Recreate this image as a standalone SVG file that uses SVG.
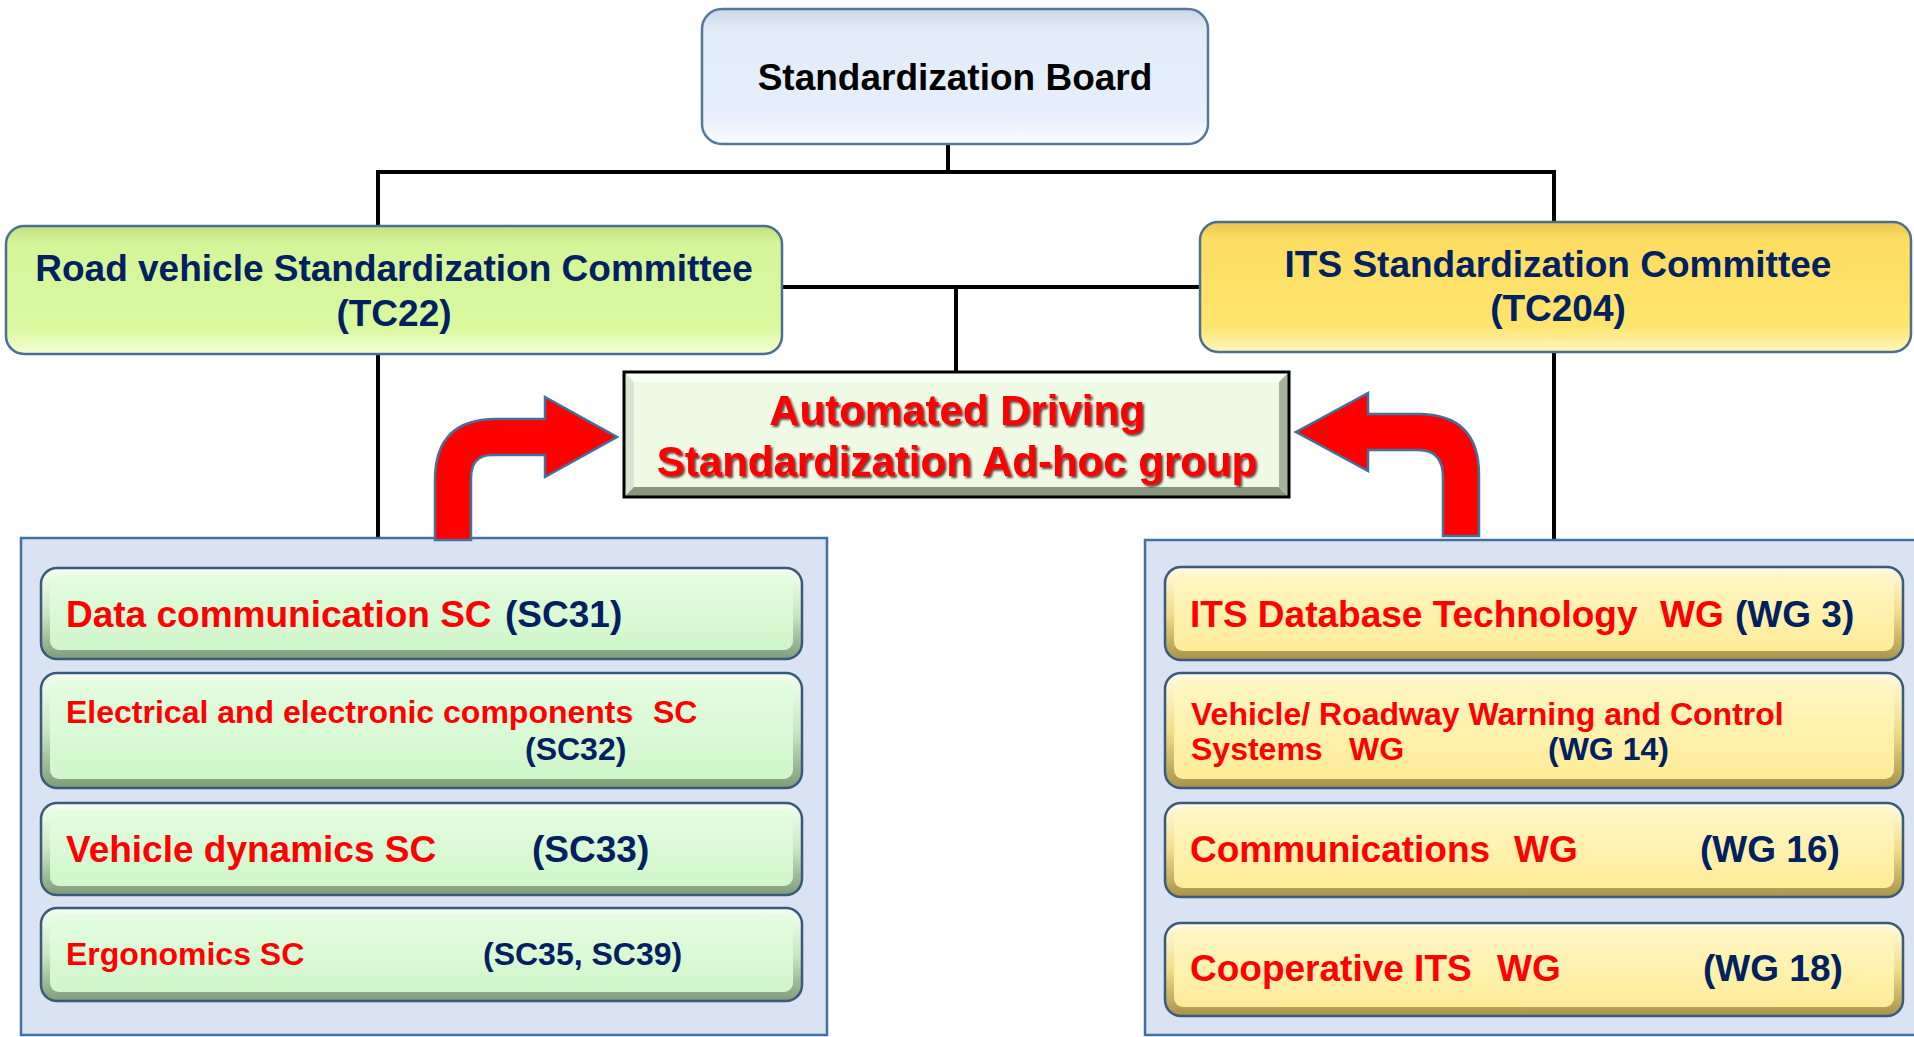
<svg xmlns="http://www.w3.org/2000/svg" width="1914" height="1037" viewBox="0 0 1914 1037">
<defs>
<linearGradient id="gBoard" x1="0" y1="0" x2="0" y2="1">
<stop offset="0" stop-color="#c9d6e6"/><stop offset="0.14" stop-color="#e1eaf7"/><stop offset="0.8" stop-color="#e6effb"/><stop offset="1" stop-color="#fbfdff"/>
</linearGradient>
<linearGradient id="gTC22" x1="0" y1="0" x2="0" y2="1">
<stop offset="0" stop-color="#c2e07e"/><stop offset="0.14" stop-color="#d5f599"/><stop offset="0.8" stop-color="#d9f99f"/><stop offset="1" stop-color="#f4ffd6"/>
</linearGradient>
<linearGradient id="gTC204" x1="0" y1="0" x2="0" y2="1">
<stop offset="0" stop-color="#e8c650"/><stop offset="0.14" stop-color="#fddd62"/><stop offset="0.8" stop-color="#ffe46e"/><stop offset="1" stop-color="#fff6bc"/>
</linearGradient>
<linearGradient id="gGreenFrame" x1="0" y1="0" x2="0" y2="1">
<stop offset="0" stop-color="#f4fff2"/><stop offset="0.5" stop-color="#c9e8c2"/><stop offset="1" stop-color="#7e9c7a"/>
</linearGradient>
<linearGradient id="gYellowFrame" x1="0" y1="0" x2="0" y2="1">
<stop offset="0" stop-color="#fffbe6"/><stop offset="0.5" stop-color="#f3dc88"/><stop offset="1" stop-color="#a8924a"/>
</linearGradient>
<linearGradient id="gGreenFace" x1="0" y1="0" x2="0" y2="1">
<stop offset="0" stop-color="#e4fde0"/><stop offset="1" stop-color="#d0f6ca"/>
</linearGradient>
<linearGradient id="gYellowFace" x1="0" y1="0" x2="0" y2="1">
<stop offset="0" stop-color="#fff6c4"/><stop offset="1" stop-color="#ffec98"/>
</linearGradient>
<filter id="shadow" x="-5%" y="-20%" width="110%" height="140%">
<feDropShadow dx="2" dy="2" stdDeviation="0.8" flood-color="#3a0000" flood-opacity="0.75"/>
</filter>
</defs>
<style>
text { font-family: "Liberation Sans", Arial, sans-serif; font-weight: bold; }
.line { stroke: #000; stroke-width: 4; fill: none; }
.arrow { fill: #ff0000; stroke: #41719c; stroke-width: 2.5; stroke-linejoin: miter; }
.panel { fill: #dae3f3; stroke: #41719c; stroke-width: 2.5; }
.navy { fill: #002060; }
.red { fill: #ff0000; }
.itemG { fill: url(#gGreenFrame); stroke: #3a5a7c; stroke-width: 2.5; }
.itemY { fill: url(#gYellowFrame); stroke: #3a5a7c; stroke-width: 2.5; }
.faceG { fill: url(#gGreenFace); }
.faceY { fill: url(#gYellowFace); }
.big { font-size: 37px; }
.small { font-size: 32px; }
</style>
<rect x="0" y="0" width="1914" height="1037" fill="#ffffff"/>

<g id="connectors">
<line class="line" x1="948" y1="144" x2="948" y2="172"/>
<line class="line" x1="378" y1="172" x2="1556" y2="172"/>
<line class="line" x1="378" y1="170" x2="378" y2="226"/>
<line class="line" x1="1554" y1="170" x2="1554" y2="222"/>
<line class="line" x1="782" y1="287" x2="1200" y2="287"/>
<line class="line" x1="956" y1="287" x2="956" y2="372"/>
<line class="line" x1="378" y1="354" x2="378" y2="538"/>
<line class="line" x1="1554" y1="352" x2="1554" y2="540"/>
</g>

<g id="panel-tc22">
<rect class="panel" x="21" y="538" width="806" height="497"/>
</g>
<g id="panel-tc204">
<rect class="panel" x="1145" y="540" width="775" height="495"/>
</g>

<g id="arrows">
<path class="arrow" d="M435,540 L435,480 Q435,419 496,419 L545,419 L545,397 L617,437 L545,477 L545,455 L492,455 Q471,455 471,478 L471,540 Z"/>
<path class="arrow" d="M1479,536 L1479,475 Q1479,414 1418,414 L1368,414 L1368,393 L1296,432 L1368,471 L1368,450 L1418,450 Q1443,450 1443,477 L1443,536 Z"/>
</g>

<g id="board">
<rect x="702" y="9" width="506" height="135" rx="20" fill="url(#gBoard)" stroke="#56769c" stroke-width="2.5"/>
<text x="955" y="90" font-size="37" fill="#000" text-anchor="middle">Standardization Board</text>
</g>

<g id="tc22">
<rect x="6" y="226" width="776" height="128" rx="18" fill="url(#gTC22)" stroke="#4c6e95" stroke-width="2.5"/>
<text class="navy big" x="394" y="281" text-anchor="middle">Road vehicle Standardization Committee</text>
<text class="navy big" x="394" y="326" text-anchor="middle">(TC22)</text>
</g>

<g id="tc204">
<rect x="1200" y="222" width="711" height="130" rx="18" fill="url(#gTC204)" stroke="#4c6e95" stroke-width="2.5"/>
<text class="navy big" x="1558" y="277" text-anchor="middle">ITS Standardization Committee</text>
<text class="navy big" x="1558" y="321" text-anchor="middle">(TC204)</text>
</g>

<g id="adhoc">
<rect x="624" y="372" width="665" height="125" fill="#eefae4"/>
<polygon points="624,372 1289,372 1279,382 634,382" fill="#f9fff4"/>
<polygon points="624,372 634,382 634,487 624,497" fill="#d9e6cf"/>
<polygon points="624,497 634,487 1279,487 1289,497" fill="#8a977f"/>
<polygon points="1289,372 1289,497 1279,487 1279,382" fill="#a6b29c"/>
<rect x="624" y="372" width="665" height="125" fill="none" stroke="#000" stroke-width="3"/>
<g filter="url(#shadow)">
<text class="red" x="957" y="425" font-size="42" text-anchor="middle">Automated Driving</text>
<text class="red" x="957" y="476" font-size="42" text-anchor="middle">Standardization Ad-hoc group</text>
</g>
</g>

<g id="sc31">
<rect class="itemG" x="41" y="568" width="761" height="91" rx="16"/>
<rect class="faceG" x="50" y="575" width="743" height="75" rx="9"/>
<text class="big" y="627"><tspan class="red" x="66">Data communication SC</tspan><tspan class="navy" x="505">(SC31)</tspan></text>
</g>

<g id="sc32">
<rect class="itemG" x="41" y="673" width="761" height="115" rx="16"/>
<rect class="faceG" x="50" y="680" width="743" height="99" rx="9"/>
<text class="small" y="723"><tspan class="red" x="66">Electrical and electronic components</tspan><tspan class="red" x="653">SC</tspan></text>
<text class="small navy" x="525" y="760">(SC32)</text>
</g>

<g id="sc33">
<rect class="itemG" x="41" y="803" width="761" height="92" rx="16"/>
<rect class="faceG" x="50" y="810" width="743" height="76" rx="9"/>
<text class="big" y="862"><tspan class="red" x="66">Vehicle dynamics SC</tspan><tspan class="navy" x="532">(SC33)</tspan></text>
</g>

<g id="sc35">
<rect class="itemG" x="41" y="908" width="761" height="93" rx="16"/>
<rect class="faceG" x="50" y="915" width="743" height="77" rx="9"/>
<text class="small" y="965"><tspan class="red" x="66">Ergonomics SC</tspan><tspan class="navy" x="483">(SC35, SC39)</tspan></text>
</g>

<g id="wg3">
<rect class="itemY" x="1165" y="567" width="738" height="93" rx="16"/>
<rect class="faceY" x="1174" y="574" width="720" height="77" rx="9"/>
<text class="big" y="627"><tspan class="red" x="1190">ITS Database Technology</tspan><tspan class="red" x="1660">WG</tspan><tspan class="navy" x="1735">(WG 3)</tspan></text>
</g>

<g id="wg14">
<rect class="itemY" x="1165" y="673" width="738" height="115" rx="16"/>
<rect class="faceY" x="1174" y="680" width="720" height="99" rx="9"/>
<text class="small red" x="1191" y="725">Vehicle/ Roadway Warning and Control</text>
<text class="small" y="760"><tspan class="red" x="1191">Systems</tspan><tspan class="red" x="1349">WG</tspan><tspan class="navy" x="1548">(WG 14)</tspan></text>
</g>

<g id="wg16">
<rect class="itemY" x="1165" y="803" width="738" height="94" rx="16"/>
<rect class="faceY" x="1174" y="810" width="720" height="78" rx="9"/>
<text class="big" y="862"><tspan class="red" x="1190">Communications</tspan><tspan class="red" x="1514">WG</tspan><tspan class="navy" x="1700">(WG 16)</tspan></text>
</g>

<g id="wg18">
<rect class="itemY" x="1165" y="923" width="738" height="93" rx="16"/>
<rect class="faceY" x="1174" y="930" width="720" height="77" rx="9"/>
<text class="big" y="981"><tspan class="red" x="1190">Cooperative ITS</tspan><tspan class="red" x="1497">WG</tspan><tspan class="navy" x="1703">(WG 18)</tspan></text>
</g>
</svg>
